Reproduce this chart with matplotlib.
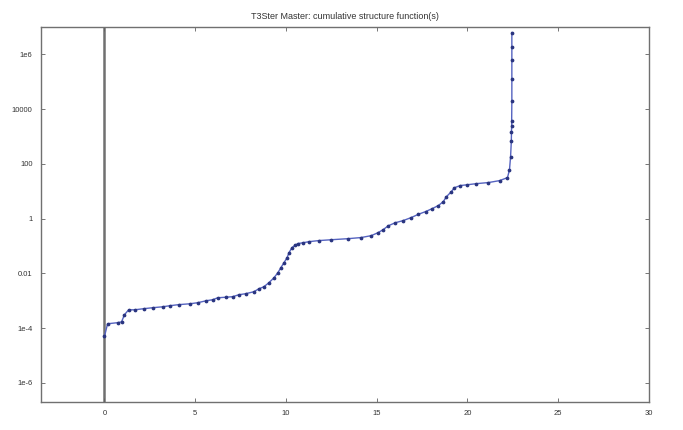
import numpy as np
import matplotlib.pyplot as plt

plt.rcParams['font.family'] = ['Liberation Sans', 'DejaVu Sans']

# cumulative structure function: cumulative thermal resistance (K/W) vs log10 of cumulative capacitance
rth = [0.0, 0.17, 0.72, 0.94, 1.1, 1.33, 1.66, 2.15, 2.7, 3.2, 3.6, 4.1, 4.7, 5.14, 5.6,
       5.97, 6.24, 6.69, 7.07, 7.4, 7.79, 8.23, 8.51, 8.78, 9.06, 9.34, 9.56, 9.72, 9.89,
       10.06, 10.17, 10.33, 10.5, 10.66, 10.94, 11.27, 11.82, 12.49, 13.43, 14.14, 14.7,
       15.08, 15.36, 15.64, 16.02, 16.46, 16.9, 17.3, 17.7, 18.07, 18.4, 18.67, 18.84,
       19.12, 19.28, 19.61, 20.0, 20.5, 21.16, 21.77, 22.21, 22.32, 22.38, 22.42, 22.43,
       22.44, 22.44, 22.45, 22.45, 22.45, 22.45, 22.45]
log_cth = [-4.3, -3.84, -3.80, -3.77, -3.51, -3.33, -3.33, -3.29, -3.25, -3.22, -3.18,
           -3.14, -3.11, -3.07, -3.00, -2.96, -2.89, -2.87, -2.85, -2.78, -2.74, -2.67,
           -2.56, -2.49, -2.34, -2.16, -1.97, -1.79, -1.61, -1.43, -1.24, -1.06, -0.97,
           -0.91, -0.88, -0.84, -0.80, -0.77, -0.73, -0.69, -0.62, -0.51, -0.40, -0.26,
           -0.15, -0.07, 0.04, 0.16, 0.26, 0.37, 0.48, 0.62, 0.80, 0.99, 1.13, 1.21, 1.24,
           1.28, 1.32, 1.39, 1.50, 1.79, 2.27, 2.82, 3.18, 3.40, 3.58, 4.31, 5.12, 5.81,
           6.29, 6.80]

yticks = [1e6, 1e4, 1e2, 1, 1e-2, 1e-4, 1e-6]
ytick_labels = ['1e6', '10000', '100', '1', '0.01', '1e-4', '1e-6']
xticks = [0, 5, 10, 15, 20, 25, 30]

cth = 10.0 ** np.array(log_cth)

fig = plt.figure(figsize=(6.83, 4.3), dpi=100)
ax = fig.add_axes([0.060, 0.065, 0.890, 0.872])

ax.axvline(0, color='#707070', lw=1.8, zorder=1)
ax.semilogy(rth, cth, color='#5563c0', lw=1.0, marker='o', ms=1.7,
            mfc='#2a3580', mec='#2a3580', zorder=3)

ax.set_xlim(-3.5, 30)
ax.set_ylim(10 ** -6.7, 10 ** 7.0)
ax.set_xticks(xticks)
ax.set_xticklabels([str(t) for t in xticks])
ax.set_yticks(yticks)
ax.set_yticklabels(ytick_labels)
ax.minorticks_off()
ax.tick_params(direction='in', length=3, width=0.6, colors='#606060', labelsize=5.5,
               labelcolor='#333333', top=True, right=True, pad=6)
for s in ax.spines.values():
    s.set_color('#707070')
    s.set_linewidth(1.0)

ax.set_title('T3Ster Master: cumulative structure function(s)', fontsize=6.5, color='#333333', pad=6)

fig.savefig('out.png', dpi=100)
